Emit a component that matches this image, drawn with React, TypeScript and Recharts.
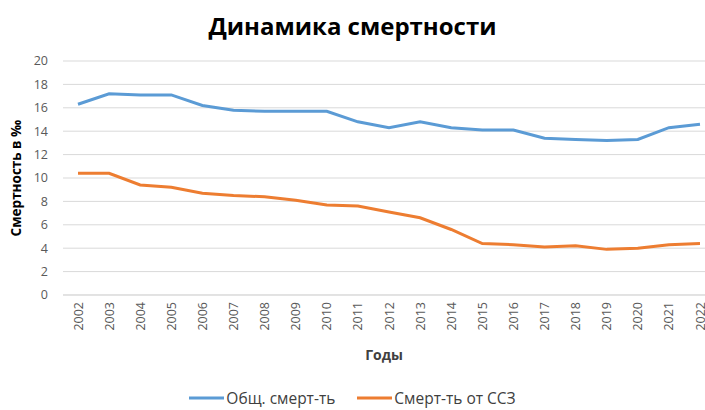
import { LineChart, Line, XAxis, YAxis, CartesianGrid, Legend } from "recharts";

const years = [
  "2002", "2003", "2004", "2005", "2006", "2007", "2008", "2009", "2010", "2011", "2012",
  "2013", "2014", "2015", "2016", "2017", "2018", "2019", "2020", "2021", "2022",
];
const totalMortality = [
  16.3, 17.2, 17.1, 17.1, 16.2, 15.8, 15.7, 15.7, 15.7, 14.8, 14.3,
  14.8, 14.3, 14.1, 14.1, 13.4, 13.3, 13.2, 13.3, 14.3, 14.6,
];
const cvdMortality = [
  10.4, 10.4, 9.4, 9.2, 8.7, 8.5, 8.4, 8.1, 7.7, 7.6, 7.1,
  6.6, 5.6, 4.4, 4.3, 4.1, 4.2, 3.9, 4.0, 4.3, 4.4,
];
const yTicks = [0, 2, 4, 6, 8, 10, 12, 14, 16, 18, 20];

const SERIES = [
  { key: "total", name: "Общ. смерт-ть", color: "#5B9BD5" },
  { key: "cvd", name: "Смерт-ть от ССЗ", color: "#ED7D31" },
];

const FONT = "'Open Sans', sans-serif";

const data = years.map((year, i) => ({
  year,
  total: totalMortality[i],
  cvd: cvdMortality[i],
}));

// rotated year labels, centred on the tick
function YearTick(props: any) {
  const { x, y, payload } = props;
  return (
    <text
      x={0}
      y={0}
      transform={`translate(${x},${y + 5}) rotate(-90)`}
      textAnchor="end"
      dominantBaseline="central"
      fill="#595959"
      fontSize={12.5}
      fontFamily={FONT}
    >
      {payload.value}
    </text>
  );
}

function LegendContent() {
  return (
    <div style={{ display: "flex", justifyContent: "center", gap: 22, fontFamily: FONT, fontSize: 15.5, lineHeight: "20px", color: "#404040" }}>
      {SERIES.map((s) => (
        <div key={s.key} style={{ display: "flex", alignItems: "center" }}>
          <svg width={35} height={6}>
            <line x1={0} y1={3} x2={35} y2={3} stroke={s.color} strokeWidth={3} />
          </svg>
          <span style={{ marginLeft: 2 }}>{s.name}</span>
        </div>
      ))}
    </div>
  );
}

export default function App() {
  return (
    <div style={{ position: "relative", width: 705, height: 410 }}>
      <style>{"html,body{margin:0;padding:0;overflow:hidden}"}</style>
      <div
        style={{
          position: "absolute",
          top: 9,
          left: 0,
          width: 705,
          textAlign: "center",
          fontFamily: FONT,
          fontWeight: 700,
          fontSize: 24,
          color: "#000",
        }}
      >
        Динамика смертности
      </div>
      <LineChart width={705} height={410} data={data} margin={{ top: 61, right: 0, bottom: 0, left: 0 }}>
        <CartesianGrid vertical={false} stroke="#D9D9D9" />
        <XAxis
          dataKey="year"
          axisLine={{ stroke: "#D9D9D9" }}
          tickLine={false}
          tickSize={0}
          interval={0}
          padding={{ left: 15, right: 5 }}
          height={65}
          tick={<YearTick />}
          label={{ value: "Годы", position: "insideBottom", offset: 0, fill: "#404040", fontSize: 14, fontWeight: 700, fontFamily: FONT }}
        />
        <YAxis
          domain={[0, 20]}
          ticks={yTicks}
          axisLine={false}
          tickLine={false}
          tickSize={0}
          tickMargin={15}
          width={63}
          tick={{ fill: "#595959", fontSize: 12.5, fontFamily: FONT }}
          label={{
            value: "Смертность в ‰",
            angle: -90,
            position: "insideLeft",
            offset: 16,
            style: { textAnchor: "middle" },
            fill: "#000",
            fontSize: 13.5,
            fontWeight: 700,
            fontFamily: FONT,
          }}
        />
        <Legend verticalAlign="bottom" content={<LegendContent />} wrapperStyle={{ paddingTop: 28, height: 50, boxSizing: "border-box" }} />
        {SERIES.map((s) => (
          <Line
            key={s.key}
            dataKey={s.key}
            name={s.name}
            stroke={s.color}
            strokeWidth={3}
            dot={false}
            type="linear"
            isAnimationActive={false}
          />
        ))}
      </LineChart>
    </div>
  );
}
